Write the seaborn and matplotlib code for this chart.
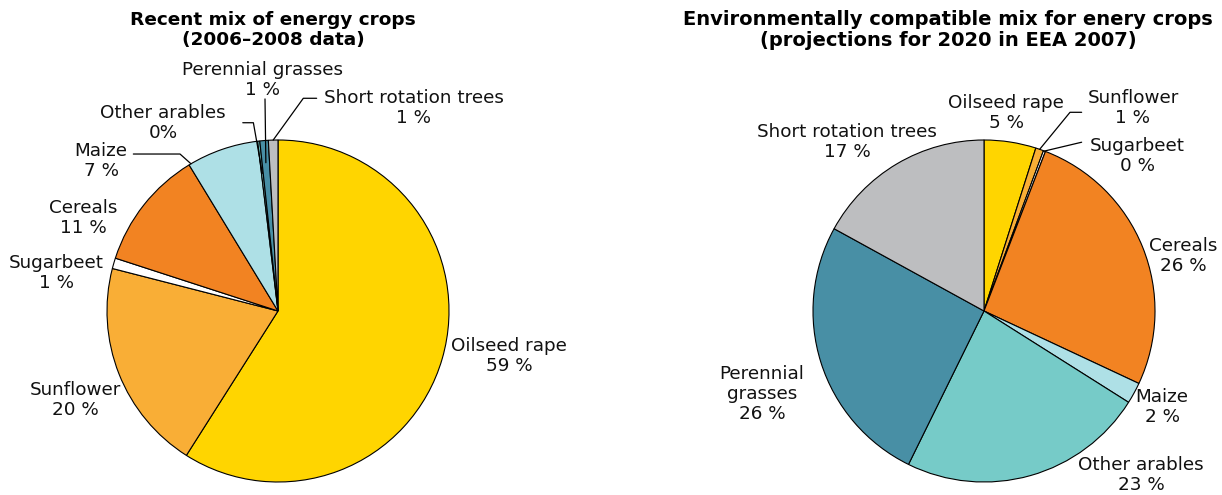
import numpy as np
import seaborn as sns
import matplotlib.pyplot as plt

sns.set_theme(style="white")
plt.rcParams['font.family'] = ['DejaVu Sans']

# crops in drawing order (clockwise from 12 o'clock)
crops = ['Oilseed rape', 'Sunflower', 'Sugarbeet', 'Cereals', 'Maize',
         'Other arables', 'Perennial grasses', 'Short rotation trees']
recent_share = [59.0, 20.0, 1.0, 11.3, 6.8, 0.2, 0.8, 0.9]
future_share = [4.9, 0.75, 0.2, 26.1, 2.0, 23.3, 25.7, 17.0]

recent_labels = ['Oilseed rape\n59 %', 'Sunflower\n20 %', 'Sugarbeet\n1 %', 'Cereals\n11 %',
                 'Maize\n7 %', 'Other arables\n0%', 'Perennial grasses\n1 %', 'Short rotation trees\n1 %']
future_labels = ['Oilseed rape\n5 %', 'Sunflower\n1 %', 'Sugarbeet\n0 %', 'Cereals\n26 %',
                 'Maize\n2 %', 'Other arables\n23 %', 'Perennial\ngrasses\n26 %', 'Short rotation trees\n17 %']

colors = sns.color_palette(['#FFD500', '#F9AE36', '#FFFFFF', '#F28322',
                            '#AEE0E6', '#76CBC8', '#488FA5', '#BDBEC0'])

W, H = 1222, 495
R = 171  # pie radius in px
FS = 13.2


def arc_xy(values, i, f, r):
    # point inside wedge i, f = fraction across wedge (clockwise), r = radius
    tot = sum(values)
    a = 2 * np.pi * (sum(values[:i]) + f * values[i]) / tot
    return r * np.sin(a), r * np.cos(a)


def draw_pie(cx, values, labels, label_pos, leaders, title, title_x, title_fs):
    ax = fig.add_axes([(cx - R) / W, (H - 311 - R) / H, 2 * R / W, 2 * R / H])
    ax.pie(values, colors=colors, startangle=90, counterclock=False,
           wedgeprops=dict(edgecolor='black', linewidth=0.8))
    ax.set_xlim(-1, 1)
    ax.set_ylim(-1, 1)
    for lab, (x, y) in zip(labels, label_pos):
        ax.text(x, y, lab, ha='center', va='center', fontsize=FS,
                color='#111111', linespacing=1.15, clip_on=False)
    for i, pts, f, r in leaders:
        ex, ey = arc_xy(values, i, f, r)
        xs = [p[0] for p in pts] + [ex]
        ys = [p[1] for p in pts] + [ey]
        ax.plot(xs, ys, color='black', lw=0.9, clip_on=False)
    fig.text(title_x / W, 1 - 30 / H, title, ha='center', va='center',
             fontsize=title_fs, fontweight='bold', color='black', linespacing=1.1)
    return ax


fig = plt.figure(figsize=(W / 100, H / 100), dpi=100)

left_pos = [(1.351, -0.263), (-1.187, -0.520), (-1.298, 0.222), (-1.140, 0.544),
            (-1.035, 0.877), (-0.673, 1.099), (-0.088, 1.351), (0.795, 1.187)]
left_leaders = [
    (4, [(-0.846, 0.918), (-0.573, 0.918)], 0.03, 1.0),
    (5, [(-0.206, 1.101), (-0.144, 1.101)], 0.5, 0.81),
    (6, [(-0.076, 1.24)], 0.5, 0.87),
    (7, [(0.226, 1.244), (0.148, 1.244)], 0.5, 1.0),
]
draw_pie(278, recent_share, recent_labels, left_pos, left_leaders,
         'Recent mix of energy crops\n(2006\u20132008 data)', 273, 13.3)

right_pos = [(0.129, 1.158), (0.871, 1.187), (0.895, 0.906), (1.164, 0.322),
             (1.041, -0.561), (0.918, -0.959), (-1.298, -0.485), (-0.801, 0.988)]
right_leaders = [
    (1, [(0.571, 1.162), (0.503, 1.162)], 0.5, 1.0),
    (2, [(0.571, 0.987)], 0.5, 1.0),
]
draw_pie(984, future_share, future_labels, right_pos, right_leaders,
         'Environmentally compatible mix for enery crops\n(projections for 2020 in EEA 2007)', 948, 14.0)

fig.savefig('out.png', dpi=100, facecolor='white')
